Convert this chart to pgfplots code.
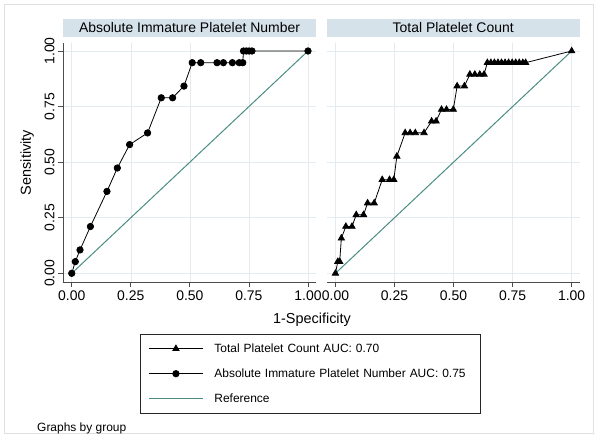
\documentclass[border=0pt]{standalone}
\usepackage{fontspec}
\setmainfont{Liberation Sans}
\usepackage{pgfplots}
\pgfplotsset{compat=1.18}
\definecolor{strip}{HTML}{D5E2EA}
\definecolor{refline}{HTML}{4A8C82}
\definecolor{gridc}{HTML}{E4EBEE}

\pgfplotsset{
  rocpanel/.style={
    anchor=south west, scale only axis,
    width=253bp, height=239bp,
    xmin=-0.037, xmax=1.034, ymin=-0.039, ymax=1.036,
    xtick={0,0.25,0.5,0.75,1}, ytick={0,0.25,0.5,0.75,1},
    grid=major, major grid style={gridc, line width=0.6bp},
    axis x line*=bottom, axis y line*=left,
    every outer x axis line/.append style={-},
    every outer y axis line/.append style={-},
    axis line style={black!70, line width=0.8bp},
    tick align=outside, major tick length=5bp,
    tick style={black!70, line width=0.8bp},
    /pgf/number format/assume math mode=true,
    /pgf/number format/fixed, /pgf/number format/fixed zerofill,
    /pgf/number format/precision=2,
    tick label style={font=\fontsize{14}{17}\selectfont},
    title style={at={(0.5,1)}, anchor=south, fill=strip, inner sep=0pt,
      minimum width=253bp, minimum height=18bp,
      font=\fontsize{14}{17}\selectfont},
  },
  roc/.style={black, line width=0.8bp},
}

\begin{document}
\begin{tikzpicture}[x=1bp, y=1bp]
\path[use as bounding box] (0,0) rectangle (597,439);
\draw[black!12] (4,6) rectangle (593,434.5);

% left panel
\begin{axis}[rocpanel, at={(63bp,157bp)},
  title={Absolute Immature Platelet Number},
  yticklabel style={rotate=90, anchor=south},
  ylabel={Sensitivity},
  ylabel style={at={(axis description cs:-0.142,0.5)}, anchor=center,
    font=\fontsize{14.5}{17}\selectfont},
  legend style={at={(0.978,-0.2176)}, anchor=north, draw=black!85,
    fill=white, font=\fontsize{12}{14}\selectfont,
    inner xsep=8bp, inner ysep=2bp, row sep=0pt, column sep=11bp,
    nodes={inner xsep=0pt, inner ysep=0pt, minimum height=25bp},
    /tikz/every even column/.append style={text width=258bp}},
  legend cell align=left,
  legend image code/.code={
    \draw[mark repeat=2, mark phase=2, #1]
      plot coordinates {(0bp,0bp) (27bp,0bp) (54bp,0bp)};},
]
\addlegendimage{roc, mark=triangle*, mark size=3.6bp}
\addlegendentry{Total Platelet Count AUC: 0.70}
\addplot[roc, mark=*, mark size=3.2bp] coordinates {
  (0,0) (0.015,0.0526) (0.035,0.1053) (0.079,0.2105) (0.149,0.3684)
  (0.193,0.4737) (0.245,0.5789) (0.321,0.6316) (0.379,0.7895)
  (0.427,0.7895) (0.475,0.8421) (0.510,0.9474) (0.546,0.9474)
  (0.615,0.9474) (0.642,0.9474) (0.680,0.9474) (0.709,0.9474)
  (0.724,0.9474) (0.727,1) (0.739,1) (0.751,1) (0.763,1) (1,1)
};
\addlegendentry{Absolute Immature Platelet Number AUC: 0.75}
\addplot[refline, line width=1bp] coordinates {(0,0) (1,1)};
\addlegendentry{Reference}
\end{axis}

% right panel
\begin{axis}[rocpanel, at={(326.7bp,157bp)},
  title={Total Platelet Count},
  yticklabels={}, ytick style={draw=none},
  y axis line style={draw=none},
]
\addplot[roc, mark=triangle*, mark size=3.6bp] coordinates {
  (0,0) (0.010,0.0526) (0.018,0.0526) (0.025,0.1579) (0.044,0.2105)
  (0.070,0.2105) (0.088,0.2632) (0.119,0.2632) (0.136,0.3158)
  (0.164,0.3158) (0.198,0.4211) (0.229,0.4211) (0.247,0.4211)
  (0.260,0.5263) (0.295,0.6316) (0.316,0.6316) (0.338,0.6316)
  (0.375,0.6316) (0.407,0.6842) (0.426,0.6842) (0.449,0.7368)
  (0.470,0.7368) (0.499,0.7368) (0.515,0.8421) (0.546,0.8421)
  (0.569,0.8947) (0.590,0.8947) (0.611,0.8947) (0.629,0.8947)
  (0.643,0.9474) (0.658,0.9474) (0.673,0.9474) (0.688,0.9474)
  (0.703,0.9474) (0.718,0.9474) (0.733,0.9474) (0.748,0.9474)
  (0.763,0.9474) (0.778,0.9474) (0.793,0.9474) (0.805,0.9474)
  (1,1)
};
\addplot[refline, line width=1bp] coordinates {(0,0) (1,1)};
\end{axis}

\node[font=\fontsize{14.5}{17}\selectfont] at (312,119) {1-Specificity};
\node[font=\fontsize{12}{14}\selectfont, anchor=west, inner sep=0pt] at (37,11) {Graphs by group};
\end{tikzpicture}
\end{document}
